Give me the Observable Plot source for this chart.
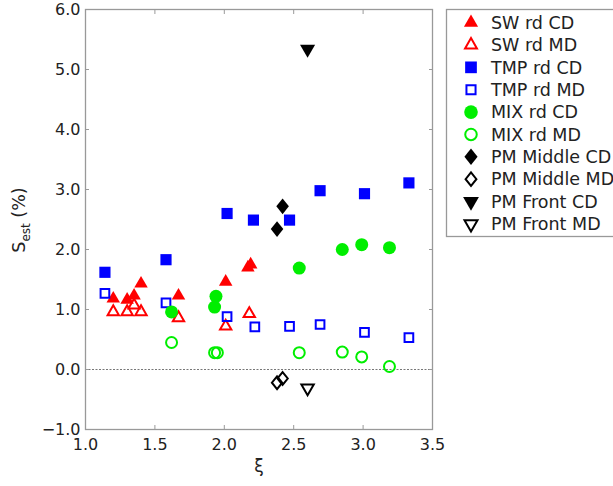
<!DOCTYPE html>
<html>
<head>
<meta charset="utf-8">
<script src="https://cdn.jsdelivr.net/npm/d3@7"></script>
<script src="https://cdn.jsdelivr.net/npm/@observablehq/plot@0.6"></script>
<style>
  html, body { margin: 0; padding: 0; background: #fff; }
  #chart { width: 613px; height: 486px; overflow: hidden; }
</style>
</head>
<body>
<div id="chart"></div>
<script>
// ---- tick values ----
const xTicks = [1.0, 1.5, 2.0, 2.5, 3.0, 3.5];
const yTicks = [-1, 0, 1, 2, 3, 4, 5, 6];
const refLines = [0];

// ---- series names ----
const seriesNames = ["SW rd CD", "SW rd MD", "TMP rd CD", "TMP rd MD", "MIX rd CD", "MIX rd MD",
                     "PM Middle CD", "PM Middle MD", "PM Front CD", "PM Front MD"];

// ---- series values [xi, S_est] ----
const swRdCD = [[1.20,1.18],[1.30,1.16],[1.35,1.23],[1.40,1.43],[1.67,1.23],[2.01,1.46],[2.17,1.70],[2.19,1.75]];
const swRdMD = [[1.20,0.96],[1.30,0.96],[1.35,1.07],[1.40,0.96],[1.67,0.86],[2.01,0.72],[2.18,0.93]];
const tmpRdCD = [[1.14,1.62],[1.58,1.83],[2.02,2.60],[2.21,2.49],[2.47,2.49],[2.69,2.98],[3.01,2.93],[3.33,3.11]];
const tmpRdMD = [[1.14,1.27],[1.58,1.11],[2.02,0.88],[2.22,0.71],[2.47,0.72],[2.69,0.75],[3.01,0.62],[3.33,0.53]];
const mixRdCD = [[1.62,0.96],[1.93,1.04],[1.94,1.22],[2.54,1.69],[2.85,2.00],[2.99,2.08],[3.19,2.03]];
const mixRdMD = [[1.62,0.45],[1.93,0.28],[1.95,0.28],[2.54,0.28],[2.85,0.29],[2.99,0.21],[3.19,0.05]];
const pmMiddleCD = [[2.38,2.34],[2.42,2.72]];
const pmMiddleMD = [[2.38,-0.22],[2.42,-0.15]];
const pmFrontCD = [[2.60,5.34]];
const pmFrontMD = [[2.60,-0.31]];

// ---- custom symbols ----
const symDown = {draw(ctx, size) {
  const s = Math.sqrt(size * 4 / Math.sqrt(3)), h = s * Math.sqrt(3) / 2;
  ctx.moveTo(-s / 2, -h / 3); ctx.lineTo(s / 2, -h / 3); ctx.lineTo(0, 2 * h / 3); ctx.closePath();
}};
const symDiamond = {draw(ctx, size) {
  const w = Math.sqrt(size / 0.625), h = 1.25 * w;
  ctx.moveTo(0, -h / 2); ctx.lineTo(w / 2, 0); ctx.lineTo(0, h / 2); ctx.lineTo(-w / 2, 0); ctx.closePath();
}};
const symUp = d3.symbolTriangle;
const symSquare = d3.symbolSquare;
const symCircle = d3.symbolCircle;

const RED = "#ff0000", BLUE = "#0000ff", GREEN = "#00ee00", BLACK = "#000000";

const styles = [
  {data: swRdCD,    symbol: symUp,      r: 5.0, fill: RED,   stroke: "none", sw: 0},
  {data: swRdMD,    symbol: symUp,      r: 4.2, fill: "none", stroke: RED,   sw: 2},
  {data: tmpRdCD,   symbol: symSquare,  r: 6.3, fill: BLUE,  stroke: "none", sw: 0},
  {data: tmpRdMD,   symbol: symSquare,  r: 4.9, fill: "none", stroke: BLUE,  sw: 2},
  {data: mixRdCD,   symbol: symCircle,  r: 6.5, fill: GREEN, stroke: "none", sw: 0},
  {data: mixRdMD,   symbol: symCircle,  r: 5.5, fill: "none", stroke: GREEN, sw: 2},
  {data: pmMiddleCD,symbol: symDiamond, r: 5.6, fill: BLACK, stroke: "none", sw: 0},
  {data: pmMiddleMD,symbol: symDiamond, r: 4.6, fill: "none", stroke: BLACK, sw: 2},
  {data: pmFrontCD, symbol: symDown,    r: 5.6, fill: BLACK, stroke: "none", sw: 0},
  {data: pmFrontMD, symbol: symDown,    r: 4.6, fill: "none", stroke: BLACK, sw: 2}
];

const AXIS = "#999999";
const fmt = d3.format(".1f");
const TS = 4;

const plot = Plot.plot({
  width: 613,
  height: 486,
  marginLeft: 85,
  marginRight: 181,
  marginTop: 9,
  marginBottom: 57,
  style: {fontFamily: "DejaVu Sans", fontSize: "16px", color: "#222", background: "white"},
  x: {domain: [1, 3.5]},
  y: {domain: [-1, 6]},
  marks: [
    Plot.ruleY(refLines, {stroke: "#777", strokeDasharray: "2,1.5", strokeWidth: 1}),
    Plot.frame({stroke: AXIS, strokeWidth: 1.3}),
    Plot.axisX({anchor: "bottom", ticks: xTicks, tickSize: 0, tickPadding: 9, tickFormat: fmt, label: null, fill: "#222"}),
    Plot.axisX({anchor: "bottom", ticks: xTicks, tickSize: TS, dy: -TS, tickFormat: () => "", label: null, stroke: AXIS}),
    Plot.axisX({anchor: "top", ticks: xTicks, tickSize: TS, dy: TS, tickFormat: () => "", label: null, stroke: AXIS}),
    Plot.axisY({anchor: "left", ticks: yTicks, tickSize: 0, tickPadding: 5, tickFormat: fmt, label: null, fill: "#222"}),
    Plot.axisY({anchor: "left", ticks: yTicks, tickSize: TS, dx: TS, tickFormat: () => "", label: null, stroke: AXIS}),
    Plot.axisY({anchor: "right", ticks: yTicks, tickSize: TS, dx: -TS, tickFormat: () => "", label: null, stroke: AXIS}),
    ...styles.map(s => Plot.dot(s.data, {
      x: d => d[0], y: d => d[1], symbol: s.symbol, r: s.r,
      fill: s.fill, stroke: s.stroke, strokeWidth: s.sw
    }))
  ]
});

document.getElementById("chart").appendChild(plot);

// ---- axis labels and legend ----
const svg = d3.select(plot);
svg.attr("overflow", "hidden");

// y label: S_est (%)
const yl = svg.append("text")
  .attr("transform", "translate(25,220) rotate(-90)")
  .attr("text-anchor", "middle")
  .attr("font-family", "DejaVu Sans")
  .attr("font-size", 17.5)
  .attr("fill", "#222");
yl.append("tspan").text("S");
yl.append("tspan").attr("font-size", 12).attr("dy", 5).text("est");
yl.append("tspan").attr("dy", -5).text(" (%)");

// x label: ξ
svg.append("text")
  .attr("x", 259).attr("y", 472)
  .attr("text-anchor", "middle")
  .attr("font-family", "DejaVu Sans")
  .attr("font-size", 17)
  .attr("fill", "#222")
  .text("ξ");

// legend
const lg = svg.append("g");
lg.append("rect")
  .attr("x", 446.5).attr("y", 9.5).attr("width", 220).attr("height", 227)
  .attr("fill", "white").attr("stroke", AXIS).attr("stroke-width", 1.3);
seriesNames.forEach((name, i) => {
  const s = styles[i];
  const cy = 22.6 + i * 22.37;
  lg.append("path")
    .attr("transform", `translate(471,${cy})`)
    .attr("d", d3.symbol(s.symbol, s.r * s.r * Math.PI * 1.1)())
    .attr("fill", s.fill).attr("stroke", s.stroke).attr("stroke-width", s.sw);
  lg.append("text")
    .attr("x", 491).attr("y", cy)
    .attr("dy", "0.36em")
    .attr("text-anchor", "start")
    .attr("font-family", "DejaVu Sans")
    .attr("font-size", 17.5)
    .attr("fill", "#222")
    .text(name);
});
</script>
</body>
</html>
